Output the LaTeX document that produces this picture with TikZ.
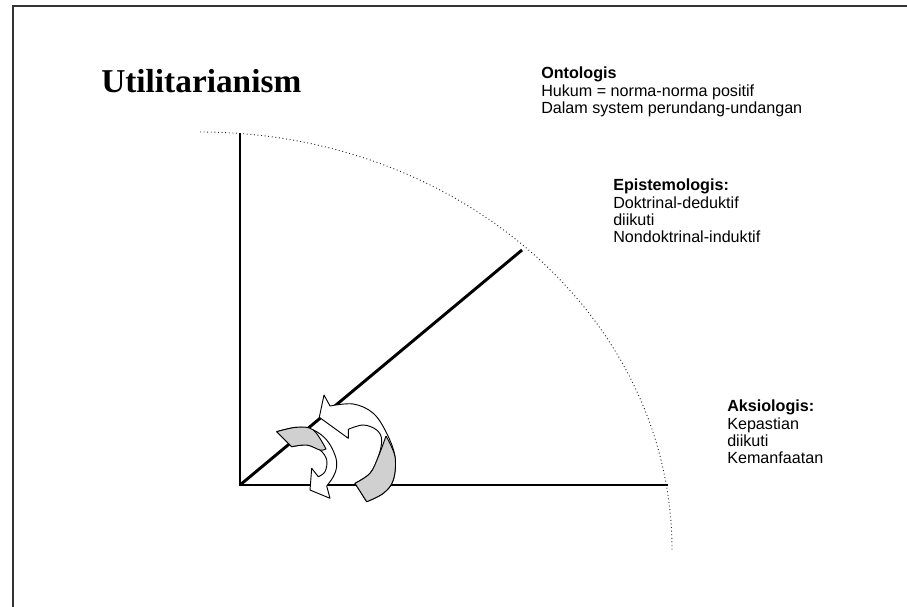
\documentclass[tikz,border=0pt]{standalone}
\usepackage{fontspec}
\setmainfont{Liberation Sans}
\newfontfamily\titlefont{Liberation Serif}
\usetikzlibrary{positioning}
\definecolor{frameCol}{HTML}{333333}
\definecolor{backCol}{HTML}{D0D0D0}
\tikzset{
  axis/.style={line width=2.2pt, black},                 % the three rays
  rim/.style={dotted, line width=0.7pt, black!85},         % quarter ellipse
  lbl/.style={anchor=north west, inner sep=0pt, align=left,
              font=\fontsize{12.1}{12.8}\selectfont},
  ribbon/.style={draw=black, line width=0.7pt, fill=white, line join=round},
  back/.style={draw=black, line width=0.7pt, fill=backCol, line join=round},
}

\begin{document}
\begin{tikzpicture}[x=0.75pt, y=-0.75pt]
  \useasboundingbox (0,0) rectangle (907,607);
  \draw[frameCol, line width=1.5pt] (13,607) -- (13,6) -- (907,6);

  \coordinate (O) at (240,485);
  \coordinate (up) at (240,133);
  \coordinate (east) at (668,485);
  \coordinate (mid) at (522,250);

  \node[anchor=base west, inner sep=0pt, font=\titlefont\bfseries\fontsize{25}{29}\selectfont]
    (title) at (101,92) {Utilitarianism};
  \node[lbl] (onto) at (541,67) {\textbf{Ontologis}\\Hukum = norma-norma positif\\Dalam system perundang-undangan};
  \node[lbl] (epis) at (613,179) {\textbf{Epistemologis:}\\Doktrinal-deduktif\\diikuti\\Nondoktrinal-induktif};
  \node[lbl] (aksi) at (727,400) {\textbf{Aksiologis:}\\Kepastian\\diikuti\\Kemanfaatan};

  \draw[rim] (200,132) arc[start angle=-90, end angle=0, x radius=472, y radius=418];
  \draw[axis] (up) -- (O) -- (east);
  \draw[axis] (O) -- (mid);

  % small arrow
  \draw[ribbon] (276.7,431.7)
    -- plot[smooth, tension=0.6] coordinates {(276.7,431.7) (296.7,427.3) (313.3,430) (326.7,440) (335,455) (336.7,466.7) (333.3,476.7) (326.7,486)}
    -- (330,498.3) -- (310,490) -- (311.7,468.3) -- (318.3,476.7)
    -- plot[smooth, tension=0.6] coordinates {(318.3,476.7) (325,471.7) (326.7,460) (320,450) (306.7,445) (291.7,446.7)}
    -- cycle;
  \draw[back] (276.7,431.7)
    -- plot[smooth, tension=0.6] coordinates {(276.7,431.7) (296.7,427.3) (313.3,430) (326,449)}
    -- plot[smooth, tension=0.6] coordinates {(326,449) (320,450) (306.7,445) (291.7,446.7)}
    -- cycle;

  % large arrow
  \draw[ribbon] (319.3,417.3) -- (324,395) -- (330,406)
    -- plot[smooth, tension=0.6] coordinates {(330,406) (353.3,404) (373.3,413.3) (386.7,433.3) (395,456.7) (393.3,480) (383.3,493.3) (366.7,501.7)}
    -- (355,483.3)
    -- plot[smooth, tension=0.6] coordinates {(355,483.3) (370,473.3) (378.3,456.7) (381.7,440) (376.7,430) (363.3,425) (348.3,429.3)}
    -- (348.3,438.3) -- cycle;
  \draw[back] (386,436)
    -- plot[smooth, tension=0.6] coordinates {(386,436) (395,456.7) (393.3,480) (383.3,493.3) (366.7,501.7)}
    -- (355,483.3)
    -- plot[smooth, tension=0.6] coordinates {(355,483.3) (370,473.3) (378.3,456.7) (386,436)};
\end{tikzpicture}
\end{document}
